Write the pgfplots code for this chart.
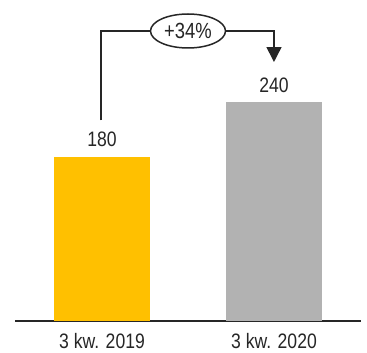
\documentclass[border=0pt]{standalone}
\usepackage{pgfplots}
\pgfplotsset{compat=1.18}
\usepackage{fontspec}
\setmainfont{Liberation Sans}[FakeStretch=0.84]
\usetikzlibrary{arrows.meta,shapes.geometric}
\definecolor{cyellow}{HTML}{FFC000}
\definecolor{cgray}{HTML}{B2B2B2}
\definecolor{ctext}{HTML}{262626}
\begin{document}
\begin{tikzpicture}[x=1bp,y=1bp]
\useasboundingbox (0,0) rectangle (367,353);
\begin{axis}[
  at={(15bp,32bp)}, anchor=south west,
  scale only axis, width=346bp, height=321bp,
  xmin=-0.506, xmax=1.506, ymin=0, ymax=352,
  axis x line=bottom, axis y line=none,
  x axis line style={-, line width=1.3bp, color=ctext},
  xtick={0,1}, xticklabels={3 kw. 2019, 3 kw. 2020},
  major tick length=0pt,
  ytick=\empty,
  /pgf/number format/assume math mode=true,
  xticklabel style={font=\fontsize{21}{24}\selectfont, text=ctext, anchor=base, yshift=-27bp},
  ybar, bar width=96bp, bar shift=0pt,
  nodes near coords,
  nodes near coords style={font=\fontsize{21}{24}\selectfont, text=ctext, anchor=base, yshift=10bp},
  clip=false,
]
\addplot[fill=cyellow, draw=none] coordinates {(0,180)};
\addplot[fill=cgray, draw=none] coordinates {(1,240)};
\draw[line width=1.5bp, color=ctext, -{Triangle[width=15bp,length=15bp]}]
  (axis cs:-0.006,220) -- (axis cs:-0.006,318) -- (axis cs:1,318) -- (axis cs:1,284);
\node[ellipse, draw=ctext, line width=1.5bp, fill=white, minimum width=75bp, minimum height=34bp, inner sep=0pt,
  font=\fontsize{22}{24}\selectfont, text=ctext] at (axis cs:0.5,318) {+34\%};
\end{axis}
\end{tikzpicture}
\end{document}
